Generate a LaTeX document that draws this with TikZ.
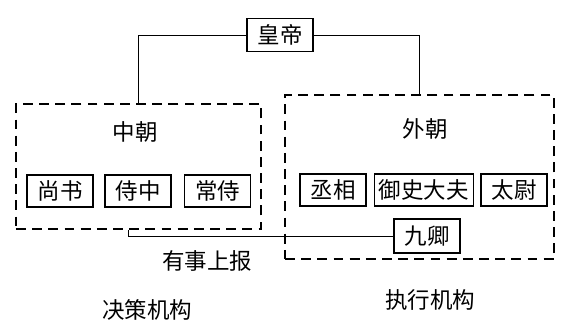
\documentclass[tikz,border=0pt]{standalone}
\usepackage{fontspec}
\setmainfont{Noto Sans CJK SC}
\begin{document}
\begin{tikzpicture}[
        office/.style={draw, line width=0.8pt, inner sep=0pt, minimum width=1.65cm, minimum height=0.8cm, font=\fontsize{16}{19}\selectfont},
        court/.style={draw, line width=0.8pt, dash pattern=on 7pt off 4.5pt, inner sep=0pt},
        caption/.style={font=\fontsize{16}{19}\selectfont},
        link/.style={line width=0.7pt}
    ]
        \path[use as bounding box] (0, 0) rectangle (14.2, -8.125);

        \node[office, minimum height=0.83cm] (emperor) at (7.0, -0.875) {皇帝};

        \node[court, minimum width=6.125cm, minimum height=3.125cm] (inner) at (3.4625, -4.1625) {};
        \node[court, minimum width=6.725cm, minimum height=4.1cm] (outer) at (10.4875, -4.425) {};

        \node[caption] (innerlabel) at (3.375, -3.3) {中朝};
        \node[caption] (outerlabel) at (10.625, -3.225) {外朝};

        \node[office] (shangshu) at (1.5, -4.775) {尚书};
        \node[office] (shizhong) at (3.45, -4.775) {侍中};
        \node[office] (changshi) at (5.44, -4.775) {常侍};

        \node[office] (chengxiang) at (8.325, -4.75) {丞相};
        \node[office, minimum width=2.475cm] (yushi) at (10.59, -4.75) {御史大夫};
        \node[office] (taiwei) at (12.85, -4.75) {太尉};
        \node[office, minimum height=0.85cm] (jiuqing) at (10.675, -5.9) {九卿};

        \node[caption] (report) at (5.175, -6.525) {有事上报};
        \node[caption] (decide) at (3.675, -7.75) {决策机构};
        \node[caption] (execute) at (10.75, -7.5) {执行机构};

        \draw[link] (emperor.west) -| (inner.north);
        \draw[link] (emperor.east) -| (outer.north);
        \draw[link] (jiuqing.west) -| ([xshift=-0.25cm]inner.south);
    \end{tikzpicture}
\end{document}
